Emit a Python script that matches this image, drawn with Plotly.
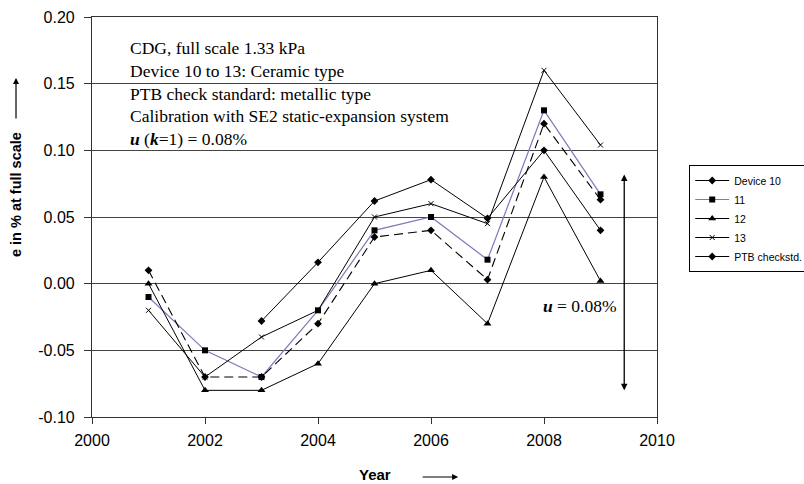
import plotly.graph_objects as go

years = [2001, 2002, 2003, 2004, 2005, 2006, 2007, 2008, 2009]
device10 = [0.010, -0.070, -0.070, -0.030, 0.035, 0.040, 0.003, 0.120, 0.063]
device11 = [-0.010, -0.050, -0.070, -0.020, 0.040, 0.050, 0.018, 0.130, 0.067]
device12 = [0.000, -0.080, -0.080, -0.060, 0.000, 0.010, -0.030, 0.080, 0.002]
device13 = [-0.020, -0.070, -0.040, -0.020, 0.050, 0.060, 0.045, 0.160, 0.104]
ptb = [None, None, -0.028, 0.016, 0.062, 0.078, 0.049, 0.100, 0.040]

x_ticks = [2000, 2002, 2004, 2006, 2008, 2010]
y_ticks = [-0.10, -0.05, 0.00, 0.05, 0.10, 0.15, 0.20]
y_ticktext = ["-0.10", "-0.05", "0.00", "0.05", "0.10", "0.15", "0.20"]

info_lines = [
    "CDG, full scale 1.33 kPa",
    "Device 10 to 13: Ceramic type",
    "PTB check standard: metallic type",
    "Calibration with SE2 static-expansion system",
    "<b><i>u</i></b> (<i><b>k</b></i>=1) = 0.08%",
]
info_y = [0.1769, 0.1596, 0.1424, 0.1255, 0.1082]

u_text = "<b><i>u</i></b> = 0.08%"
u_pos = (2008.64, -0.017)
u_arrow = (2009.42, 0.083, -0.080)

fig = go.Figure()

# legend-only entry for Device 10 (solid in legend, as in reference)
fig.add_trace(go.Scatter(x=[None], y=[None], name="Device 10", mode="lines+markers",
                         line=dict(color="black", width=1),
                         marker=dict(symbol="diamond", size=6, color="black")))
fig.add_trace(go.Scatter(x=years, y=device11, name="11", mode="lines+markers",
                         line=dict(color="#7b7bbb", width=1.2),
                         marker=dict(symbol="square", size=6, color="black")))
fig.add_trace(go.Scatter(x=years, y=device12, name="12", mode="lines+markers",
                         line=dict(color="black", width=1),
                         marker=dict(symbol="triangle-up", size=7, color="black")))
fig.add_trace(go.Scatter(x=years, y=device13, name="13", mode="lines+markers",
                         line=dict(color="black", width=1),
                         marker=dict(symbol="x-thin", size=5, color="black",
                                     line=dict(color="black", width=1))))
fig.add_trace(go.Scatter(x=years, y=ptb, name="PTB checkstd.", mode="lines+markers",
                         line=dict(color="black", width=1),
                         marker=dict(symbol="diamond", size=6, color="black")))
fig.add_trace(go.Scatter(x=years, y=device10, name="Device 10", mode="lines+markers",
                         showlegend=False,
                         line=dict(color="black", width=1.1, dash="9px,5px"),
                         marker=dict(symbol="diamond", size=6, color="black")))

annotations = []
for txt, yy in zip(info_lines, info_y):
    annotations.append(dict(x=2000.64, y=yy, xref="x", yref="y", text=txt,
                            showarrow=False, xanchor="left", yanchor="middle",
                            font=dict(family="Liberation Serif", size=17.5, color="black")))

annotations.append(dict(x=u_pos[0], y=u_pos[1], xref="x", yref="y", text=u_text,
                        showarrow=False, xanchor="center", yanchor="middle",
                        font=dict(family="Liberation Serif", size=17.5, color="black")))
annotations.append(dict(x=u_arrow[0], y=u_arrow[2], ax=u_arrow[0], ay=u_arrow[1],
                        xref="x", yref="y", axref="x", ayref="y", text="",
                        showarrow=True, arrowhead=2, arrowside="end+start",
                        arrowsize=1, arrowwidth=1.3, arrowcolor="black", standoff=0,
                        startstandoff=0))

# y-axis title with arrow
annotations.append(dict(x=-0.1345, y=0.555, xref="paper", yref="paper",
                        text="<b>e in % at full scale</b>", textangle=-90,
                        showarrow=False, xanchor="center", yanchor="middle",
                        font=dict(family="Liberation Sans", size=14.5, color="black")))
annotations.append(dict(x=-0.1345, y=0.8475, xref="paper", yref="paper", text="",
                        showarrow=True, ax=0, ay=42, arrowhead=2, arrowsize=1,
                        arrowwidth=1.2, arrowcolor="black"))
# x-axis title with arrow
annotations.append(dict(x=0.501, y=-0.1425, xref="paper", yref="paper",
                        text="<b>Year</b>", showarrow=False,
                        xanchor="center", yanchor="middle",
                        font=dict(family="Liberation Sans", size=15, color="black")))
annotations.append(dict(x=0.648, y=-0.15, xref="paper", yref="paper", text="",
                        showarrow=True, ax=-37, ay=0, arrowhead=2, arrowsize=1,
                        arrowwidth=1.2, arrowcolor="black"))

fig.update_layout(
    width=804, height=484,
    margin=dict(l=92, r=147, t=17, b=67, autoexpand=False),
    paper_bgcolor="white", plot_bgcolor="white",
    font=dict(family="Liberation Sans", size=16, color="black"),
    showlegend=True,
    legend=dict(x=1.057, y=0.63, xanchor="left", yanchor="top",
                bgcolor="white", bordercolor="black", borderwidth=1,
                font=dict(family="Liberation Sans", size=10.5, color="black"),
                traceorder="normal", tracegroupgap=0, itemwidth=34),
    annotations=annotations,
)
fig.update_xaxes(range=[2000, 2010], tickvals=x_ticks, ticks="outside", ticklen=6,
                 tickcolor="#333", showgrid=False, zeroline=False,
                 showline=True, linecolor="#333", linewidth=1.2, mirror=True,
                 tickfont=dict(size=16), ticklabelstandoff=3)
fig.update_yaxes(range=[-0.10, 0.20], tickvals=y_ticks, ticktext=y_ticktext,
                 ticks="outside", ticklen=7, tickcolor="#333",
                 showgrid=True, gridcolor="#444", gridwidth=1.2, zeroline=False,
                 showline=True, linecolor="#333", linewidth=1.2, mirror=True,
                 tickfont=dict(size=16), ticklabelstandoff=6)

fig.write_html("out.html", config={"displayModeBar": False},
               post_script="document.body.style.margin='0px';document.body.style.overflow='hidden';")
